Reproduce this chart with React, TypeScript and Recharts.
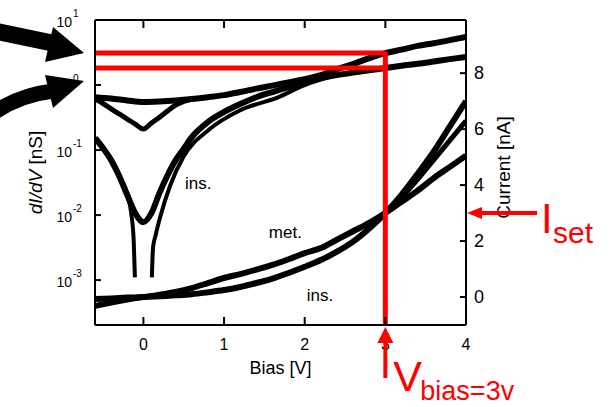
import React from "react";
import {
  ComposedChart,
  Line,
  XAxis,
  YAxis,
  Label,
  ReferenceLine,
  ReferenceDot,
} from "recharts";

const FONT = "'Liberation Sans', Arial, Helvetica, sans-serif";
const RED = "#ff0000";

// dI/dV [nS], metallic tip (top curve)
const biasMetG = [-0.6, -0.4, -0.2, 0, 0.2, 0.4, 0.6, 0.8, 1.0, 1.2, 1.4, 1.6, 1.8, 2.0, 2.2, 2.4, 2.6, 2.8, 3.0, 3.2, 3.4, 3.6, 3.8, 4.0];
const dIdVMet = [0.65, 0.62, 0.58, 0.55, 0.56, 0.58, 0.61, 0.65, 0.7, 0.78, 0.88, 0.98, 1.1, 1.23, 1.42, 1.75, 2.1, 2.6, 3.1, 3.5, 4.0, 4.4, 4.9, 5.5];

// dI/dV, insulating: shallow V
const biasInsA = [-0.6, -0.5, -0.4, -0.3, -0.2, -0.1, 0, 0.1, 0.2, 0.3, 0.4, 0.5, 0.6];
const dIdVInsA = [0.61, 0.52, 0.43, 0.36, 0.3, 0.25, 0.21, 0.26, 0.32, 0.4, 0.49, 0.56, 0.61];

// dI/dV, insulating: deep V
const biasInsB = [-0.6, -0.5, -0.4, -0.3, -0.2, -0.1, 0, 0.1, 0.2, 0.3, 0.4, 0.5, 0.6, 0.8, 1.0, 1.2, 1.4, 1.6, 1.8, 2.0, 2.2, 2.4, 2.6, 2.8, 3.0, 3.2, 3.4, 3.6, 3.8, 4.0];
const dIdVInsB = [0.153, 0.107, 0.07, 0.04, 0.0204, 0.0107, 0.0078, 0.0107, 0.022, 0.041, 0.07, 0.105, 0.158, 0.27, 0.385, 0.51, 0.65, 0.78, 0.93, 1.11, 1.28, 1.42, 1.55, 1.68, 1.83, 1.98, 2.12, 2.3, 2.5, 2.7];

// dI/dV, insulating: gap curve (goes off scale around 0 V)
const biasInsC = [-0.6, -0.5, -0.4, -0.3, -0.2, -0.15, -0.12, -0.105, 0, 0.105, 0.12, 0.15, 0.21, 0.33, 0.5, 0.8, 1.2, 1.66, 2.0, 2.4];
const dIdVInsC = [0.153, 0.107, 0.07, 0.04, 0.0204, 0.0105, 0.004, 0.0011, null, 0.0011, 0.0032, 0.0048, 0.0095, 0.028, 0.08, 0.2, 0.41, 0.64, 1.0, 1.42];

// current [nA]
const biasI = [-0.6, -0.4, -0.2, 0, 0.2, 0.4, 0.6, 0.8, 1.0, 1.2, 1.4, 1.6, 1.8, 2.0, 2.2, 2.4, 2.6, 2.8, 3.0, 3.2, 3.4, 3.6, 3.8, 4.0];
const currentMet = [-0.07, -0.05, -0.02, 0, 0.08, 0.18, 0.32, 0.5, 0.68, 0.82, 0.98, 1.15, 1.35, 1.57, 1.75, 2.05, 2.35, 2.65, 3.0, 3.4, 3.8, 4.25, 4.65, 5.05];
const currentIns = [-0.32, -0.2, -0.09, 0, 0.03, 0.06, 0.1, 0.17, 0.25, 0.36, 0.5, 0.66, 0.86, 1.08, 1.32, 1.62, 1.98, 2.45, 3.0, 3.65, 4.4, 5.2, 6.1, 7.0];
const biasInsRet = [3.0, 3.2, 3.4, 3.6, 3.8, 4.0];
const currentInsRet = [3.0, 3.55, 4.2, 4.9, 5.6, 6.3];

// set point
const vBiasSet = 3;
const iSet = 3;
const dIdVSetMet = 3.1;
const dIdVSetIns = 1.83;

const biasTicks = [0, 1, 2, 3, 4];
const dIdVTicks = [0.001, 0.01, 0.1, 1, 10];
const currentTicks = [0, 2, 4, 6, 8];

const toPts = (xs: number[], ys: (number | null)[]) => xs.map((x, i) => ({ x, v: ys[i] }));

const BiasTick = (props: any) => {
  const { x, y, payload } = props;
  return (
    <g>
      <line x1={x} y1={y} x2={x} y2={y - 8} stroke="#000" strokeWidth={2} />
      <text x={x} y={y + 25} textAnchor="middle" fontSize={16} fontFamily={FONT} fill="#000">
        {payload.value}
      </text>
      {payload.value === vBiasSet && (
        <g>
          <line x1={x} y1={y + 15} x2={x} y2={y + 53} stroke={RED} strokeWidth={4} />
          <polygon points={`${x},${y + 2} ${x - 8},${y + 18} ${x + 8},${y + 18}`} fill={RED} />
          <text x={x + 8} y={y + 66} fontSize={43} fontFamily={FONT} fill={RED}>V</text>
          <text x={x + 35} y={y + 75} fontSize={27} fontFamily={FONT} fill={RED}>bias=3v</text>
        </g>
      )}
    </g>
  );
};

const TopTick = (props: any) => {
  const { x, y } = props;
  return <line x1={x} y1={y} x2={x} y2={y + 8} stroke="#000" strokeWidth={2} />;
};

const DIdVTick = (props: any) => {
  const { x, y, payload } = props;
  const exp = Math.round(Math.log10(payload.value));
  return (
    <g>
      <line x1={x} y1={y} x2={x + 6} y2={y} stroke="#000" strokeWidth={2} />
      <text x={x - 23} y={y + 7} textAnchor="end" fontSize={14} fontFamily={FONT} fill="#000">10</text>
      <text x={x - 22} y={y - 3} fontSize={10} fontFamily={FONT} fill="#000">{exp}</text>
      {exp === 0 && (
        <g fill="#000" stroke="none">
          <line x1={x - 100} y1={y - 54} x2={x - 38} y2={y - 41} stroke="#000" strokeWidth={17} />
          <polygon points={`${x - 42},${y - 58} ${x - 11},${y - 32} ${x - 50},${y - 23}`} />
          <path d={`M ${x - 100} ${y + 27} Q ${x - 75} ${y + 10} ${x - 42} ${y + 6}`} fill="none" stroke="#000" strokeWidth={15} />
          <polygon points={`${x - 50},${y - 10} ${x - 11},${y - 4} ${x - 42},${y + 23}`} />
        </g>
      )}
    </g>
  );
};

const CurrentTick = (props: any) => {
  const { x, y, payload } = props;
  if (payload.value === iSet) {
    return (
      <g>
        <line x1={x + 14} y1={y} x2={x + 71} y2={y} stroke={RED} strokeWidth={4} />
        <polygon points={`${x + 1},${y} ${x + 16},${y - 6} ${x + 16},${y + 6}`} fill={RED} />
        <text x={x + 75} y={y + 20} fontSize={42} fontFamily={FONT} fill={RED}>I</text>
        <text x={x + 87} y={y + 30} fontSize={30} fontFamily={FONT} fill={RED}>set</text>
      </g>
    );
  }
  return (
    <g>
      <line x1={x} y1={y} x2={x - 6} y2={y} stroke="#000" strokeWidth={2} />
      <text x={x + 8} y={y + 6} fontSize={18} fontFamily={FONT} fill="#000">{payload.value}</text>
    </g>
  );
};

const TextMark = (txt: string) => (p: any) => (
  <text x={p.cx} y={p.cy + 6} textAnchor="middle" fontSize={17} fontFamily={FONT} fill="#000">
    {txt}
  </text>
);

const frame = { stroke: "#000", strokeWidth: 2 };

export default function App() {
  return (
    <div style={{ position: "absolute", left: 0, top: 0, width: 611, height: 407, background: "#fff" }}>
      <ComposedChart width={611} height={407} margin={{ top: 0, right: 0, bottom: 0, left: 0 }}>
        <XAxis
          xAxisId="b"
          type="number"
          dataKey="x"
          domain={[-0.6, 4]}
          ticks={biasTicks}
          interval={0}
          height={82}
          allowDataOverflow
          axisLine={frame}
          tickLine={false}
          tickSize={0}
          tickMargin={0}
          tick={BiasTick}
        >
          <Label
            content={({ viewBox }: any) => (
              <text x={viewBox.x + viewBox.width / 2} y={viewBox.y + 49} textAnchor="middle" fontSize={18} fontFamily={FONT} fill="#000">
                Bias [V]
              </text>
            )}
          />
        </XAxis>
        <XAxis
          xAxisId="t"
          orientation="top"
          type="number"
          dataKey="x"
          domain={[-0.6, 4]}
          ticks={biasTicks}
          interval={0}
          height={20}
          allowDataOverflow
          axisLine={frame}
          tickLine={false}
          tickSize={0}
          tickMargin={0}
          tick={TopTick}
        />
        <YAxis
          yAxisId="g"
          type="number"
          scale="log"
          domain={[2.04e-4, 10]}
          ticks={dIdVTicks}
          interval={0}
          width={95}
          allowDataOverflow
          axisLine={frame}
          tickLine={false}
          tickSize={0}
          tickMargin={0}
          tick={DIdVTick}
        >
          <Label
            content={({ viewBox }: any) => {
              const cx = viewBox.x + 42;
              const cy = viewBox.y + viewBox.height / 2;
              return (
                <text x={cx} y={cy} transform={`rotate(-90 ${cx} ${cy})`} textAnchor="middle" fontSize={19} fontFamily={FONT} fill="#000">
                  <tspan fontStyle="italic">dI/dV</tspan> [nS]
                </text>
              );
            }}
          />
        </YAxis>
        <YAxis
          yAxisId="i"
          orientation="right"
          type="number"
          domain={[-1, 9.9]}
          ticks={[...currentTicks, iSet]}
          interval={0}
          width={145}
          allowDataOverflow
          axisLine={frame}
          tickLine={false}
          tickSize={0}
          tickMargin={0}
          tick={CurrentTick}
        >
          <Label
            content={({ viewBox }: any) => {
              const cx = viewBox.x + 44;
              const cy = viewBox.y + viewBox.height / 2 - 5;
              return (
                <text x={cx} y={cy} transform={`rotate(-90 ${cx} ${cy})`} textAnchor="middle" fontSize={19} fontFamily={FONT} fill="#000">
                  Current [nA]
                </text>
              );
            }}
          />
        </YAxis>

        <Line xAxisId="b" yAxisId="g" data={toPts(biasMetG, dIdVMet)} dataKey="v" type="monotone" stroke="#000" strokeWidth={6} dot={false} isAnimationActive={false} />
        <Line xAxisId="b" yAxisId="g" data={toPts(biasInsA, dIdVInsA)} dataKey="v" type="monotone" stroke="#000" strokeWidth={5} dot={false} isAnimationActive={false} />
        <Line xAxisId="b" yAxisId="g" data={toPts(biasInsB, dIdVInsB)} dataKey="v" type="monotone" stroke="#000" strokeWidth={6} dot={false} isAnimationActive={false} />
        <Line xAxisId="b" yAxisId="g" data={toPts(biasInsC, dIdVInsC)} dataKey="v" type="monotone" stroke="#000" strokeWidth={4} dot={false} connectNulls={false} isAnimationActive={false} />

        <Line xAxisId="b" yAxisId="i" data={toPts(biasI, currentMet)} dataKey="v" type="monotone" stroke="#000" strokeWidth={6} dot={false} isAnimationActive={false} />
        <Line xAxisId="b" yAxisId="i" data={toPts(biasI, currentIns)} dataKey="v" type="monotone" stroke="#000" strokeWidth={6} dot={false} isAnimationActive={false} />
        <Line xAxisId="b" yAxisId="i" data={toPts(biasInsRet, currentInsRet)} dataKey="v" type="monotone" stroke="#000" strokeWidth={5} dot={false} isAnimationActive={false} />

        <ReferenceLine xAxisId="b" yAxisId="g" segment={[{ x: -0.6, y: dIdVSetMet }, { x: vBiasSet, y: dIdVSetMet }]} stroke={RED} strokeWidth={5} />
        <ReferenceLine xAxisId="b" yAxisId="g" segment={[{ x: -0.6, y: dIdVSetIns }, { x: vBiasSet, y: dIdVSetIns }]} stroke={RED} strokeWidth={5} />
        <ReferenceLine xAxisId="b" yAxisId="g" segment={[{ x: vBiasSet, y: dIdVSetMet * 1.05 }, { x: vBiasSet, y: 2.04e-4 }]} stroke={RED} strokeWidth={5} />

        <ReferenceDot xAxisId="b" yAxisId="g" x={0.68} y={0.031} r={0} shape={TextMark("ins.")} />
        <ReferenceDot xAxisId="b" yAxisId="i" x={1.76} y={2.32} r={0} shape={TextMark("met.")} />
        <ReferenceDot xAxisId="b" yAxisId="i" x={2.19} y={0.07} r={0} shape={TextMark("ins.")} />
      </ComposedChart>
    </div>
  );
}
